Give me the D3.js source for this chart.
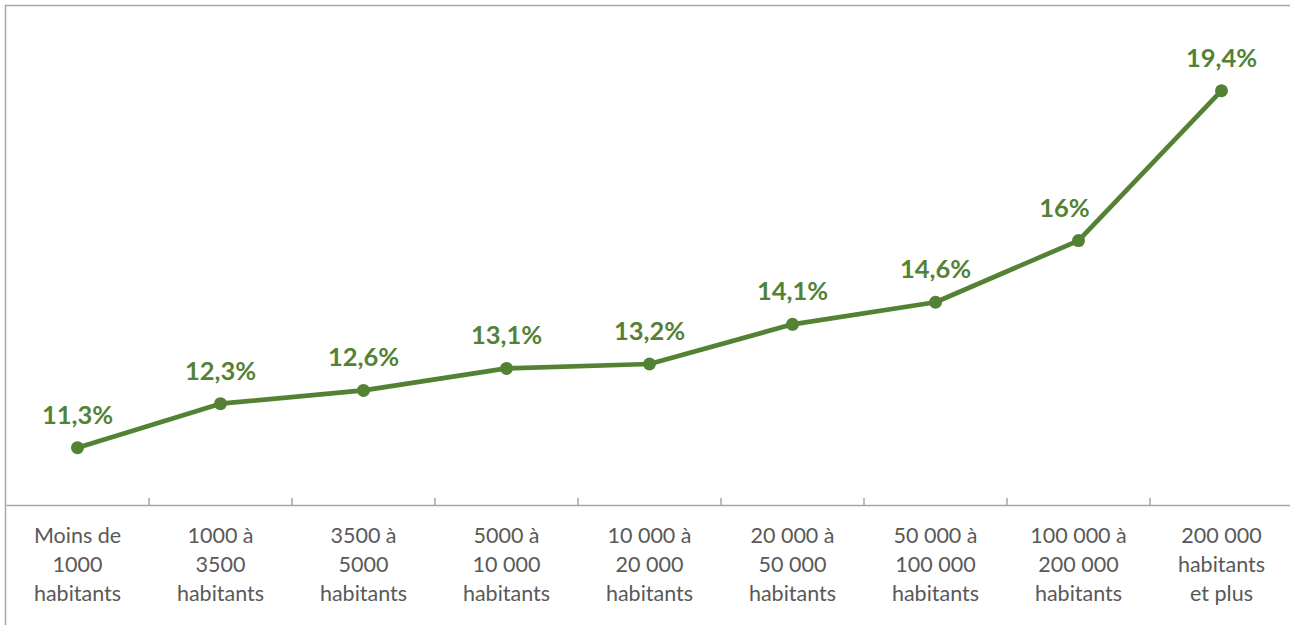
<!DOCTYPE html>
<html><head><meta charset="utf-8">
<script src="https://cdn.jsdelivr.net/npm/d3@7"></script>
<style>body{margin:0;background:#fff}svg{display:block}</style>
</head><body>
<svg id="c" width="1290" height="625"></svg>
<script>
const categories = [
  ["Moins de","1000","habitants"],
  ["1000 à","3500","habitants"],
  ["3500 à","5000","habitants"],
  ["5000 à","10 000","habitants"],
  ["10 000 à","20 000","habitants"],
  ["20 000 à","50 000","habitants"],
  ["50 000 à","100 000","habitants"],
  ["100 000 à","200 000","habitants"],
  ["200 000","habitants","et plus"]
];
const values = [11.3, 12.3, 12.6, 13.1, 13.2, 14.1, 14.6, 16, 19.4];
const labels = ["11,3%","12,3%","12,6%","13,1%","13,2%","14,1%","14,6%","16%","19,4%"];

const svg = d3.select("#c");
const green = "#548235";
svg.append("rect").attr("x",5.5).attr("y",5.5).attr("width",1300).attr("height",700)
  .attr("fill","none").attr("stroke","#a6a6a6").attr("stroke-width",1.5);

const idx = categories.map((d,i)=>i);
const x = d3.scaleBand().domain(idx).range([6, 6+9*143]).padding(0);
const y = d3.scaleLinear().domain([10, 20]).range([505, 505-440.7]);

const axisY = y(10);
const axis = d3.axisBottom(x).tickSize(0).tickFormat("");
const ag = svg.append("g").attr("transform",`translate(0,${axisY})`).call(axis);
ag.select(".domain").attr("stroke","#a6a6a6").attr("stroke-width",1.5);
svg.append("g").selectAll("line").data(idx.slice(1)).join("line")
  .attr("x1",d=>x(d)).attr("x2",d=>x(d)).attr("y1",axisY).attr("y2",axisY-7)
  .attr("stroke","#a6a6a6").attr("stroke-width",1.5);

const cl = svg.append("g").selectAll("text").data(categories).join("text")
  .attr("text-anchor","middle").attr("fill","#595959")
  .style("font-family","Lato, 'Open Sans', sans-serif").style("font-size","21.5px")
  .attr("transform",(d,i)=>`translate(${x(i)+x.bandwidth()/2},543)`);
cl.selectAll("tspan").data(d=>d).join("tspan")
  .attr("x",0).attr("dy",(d,j)=>j===0?0:29).text(d=>d);

const cx = i => x(i)+x.bandwidth()/2;
const line = d3.line().x((d,i)=>cx(i)).y(d=>y(d));
svg.append("path").datum(values).attr("d",line).attr("fill","none")
  .attr("stroke",green).attr("stroke-width",4.7).attr("stroke-linejoin","round");
svg.append("g").selectAll("circle").data(values).join("circle")
  .attr("cx",(d,i)=>cx(i)).attr("cy",d=>y(d)).attr("r",6.5).attr("fill",green);

// label nudged left where the outgoing segment is steep (avoids overlap with the line)
const nudge = i => (i < values.length-1 && (values[i+1]-values[i]) > 2) ? -14 : 0;
svg.append("g").selectAll("text").data(values).join("text")
  .attr("x",(d,i)=>cx(i)+nudge(i)).attr("y",d=>y(d)-24)
  .attr("text-anchor","middle").attr("fill",green)
  .style("font-family","Lato, 'Open Sans', sans-serif").style("font-size","25.5px").style("font-weight","bold")
  .text((d,i)=>labels[i]);
</script>
</body></html>
